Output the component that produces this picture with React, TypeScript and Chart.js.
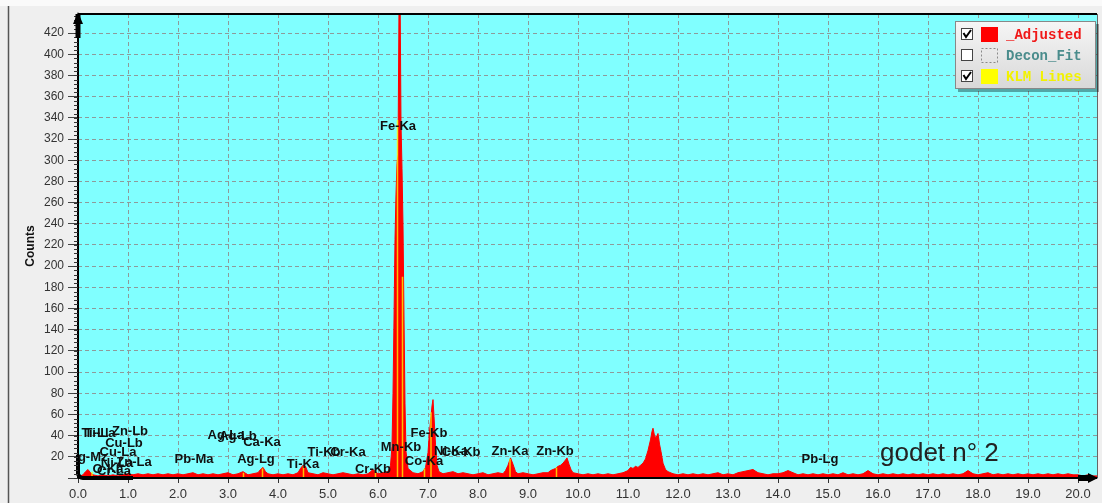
import React, { useEffect, useRef } from 'react';
import { Chart, registerables } from 'chart.js';

Chart.register(...registerables);

// ---- spectrum (_Adjusted) ----
const spectrumKeV = [
  0.0, 0.05, 0.1, 0.15, 0.2, 0.25, 0.3, 0.4, 0.5, 0.6, 0.7, 0.8, 0.9, 1.0, 1.1, 1.2, 1.3, 1.4, 1.5, 1.6, 1.7, 1.8, 1.9,
  2.0, 2.1, 2.2, 2.3, 2.4, 2.5, 2.6, 2.7, 2.8, 2.9, 3.0, 3.1, 3.2, 3.3, 3.4, 3.5, 3.6, 3.65, 3.7, 3.75, 3.8, 3.9,
  4.0, 4.1, 4.2, 4.3, 4.4, 4.45, 4.5, 4.55, 4.6, 4.7, 4.8, 4.9, 5.0, 5.1, 5.2, 5.3, 5.4, 5.5, 5.6, 5.7, 5.8, 5.85, 5.9, 5.95,
  6.0, 6.1, 6.2, 6.25, 6.28, 6.3, 6.32, 6.34, 6.36, 6.38, 6.4, 6.42, 6.44, 6.46, 6.48, 6.5, 6.52, 6.54, 6.56, 6.6, 6.7, 6.8,
  6.9, 6.95, 7.0, 7.03, 7.06, 7.08, 7.1, 7.12, 7.15, 7.18, 7.22, 7.3, 7.4, 7.5, 7.6, 7.7, 7.8, 7.9,
  8.0, 8.1, 8.2, 8.3, 8.4, 8.5, 8.55, 8.6, 8.65, 8.7, 8.75, 8.8, 8.9, 9.0, 9.1, 9.2, 9.3, 9.4, 9.45, 9.5, 9.55, 9.6, 9.65,
  9.7, 9.75, 9.78, 9.82, 9.86, 9.9, 10.0, 10.1, 10.2, 10.3, 10.4, 10.5, 10.6, 10.7, 10.8, 10.9,
  11.0, 11.05, 11.1, 11.15, 11.2, 11.25, 11.3, 11.35, 11.4, 11.45, 11.48, 11.5, 11.53, 11.56, 11.6, 11.63, 11.66, 11.7,
  11.75, 11.8, 11.9, 12.0, 12.1, 12.2, 12.3, 12.4, 12.5, 12.6, 12.7, 12.8, 12.9, 13.0, 13.1, 13.2, 13.3, 13.4, 13.5,
  13.6, 13.7, 13.8, 13.9, 14.0, 14.1, 14.2, 14.3, 14.4, 14.5, 14.6, 14.7, 14.8, 14.9, 15.0, 15.1, 15.2, 15.3, 15.4,
  15.5, 15.6, 15.7, 15.8, 15.9, 16.0, 16.1, 16.2, 16.3, 16.4, 16.5, 16.6, 16.7, 16.8, 16.9, 17.0, 17.1, 17.2, 17.3,
  17.4, 17.5, 17.6, 17.7, 17.8, 17.9, 18.0, 18.1, 18.2, 18.3, 18.4, 18.5, 18.6, 18.7, 18.8, 18.9, 19.0, 19.1, 19.2,
  19.3, 19.4, 19.5, 19.6, 19.7, 19.8, 19.9, 20.0, 20.1, 20.2, 20.3, 20.4,
];
const spectrumCounts = [
  0, 2, 3, 6, 8, 5, 3, 2, 3, 2, 3, 2, 3, 4, 3, 4, 3, 4, 3, 4, 3, 4, 3,
  4, 3, 4, 5, 3, 4, 3, 4, 3, 4, 5, 3, 4, 6, 3, 4, 5, 8, 10, 6, 4, 3,
  4, 3, 4, 3, 5, 9, 12, 11, 5, 4, 3, 5, 4, 3, 4, 5, 4, 3, 4, 3, 4, 6, 8, 6,
  4, 5, 6, 12, 30, 80, 150, 225, 268, 297, 305, 445, 470, 335, 292, 238, 150, 70, 25, 9, 5, 4,
  6, 10, 24, 44, 58, 68, 74, 58, 32, 12, 6, 4, 5, 6, 4, 5, 4, 3,
  4, 5, 3, 4, 5, 4, 7, 12, 19, 13, 6, 4, 5, 4, 3, 4, 5, 5, 7, 8, 9, 11, 12,
  14, 17, 19, 13, 8, 5, 4, 3, 4, 3, 4, 3, 4, 3, 4, 5,
  7, 10, 9, 11, 10, 12, 14, 18, 26, 36, 44, 47, 40, 38, 42, 32, 25, 14,
  8, 6, 4, 3, 4, 3, 4, 3, 4, 3, 4, 5, 3, 4, 3, 5, 6, 7, 8,
  5, 4, 3, 4, 4, 5, 7, 5, 3, 4, 3, 4, 3, 4, 3, 4, 3, 5, 3,
  4, 3, 4, 7, 4, 3, 4, 3, 4, 3, 4, 3, 4, 3, 4, 3, 4, 3, 4,
  3, 4, 3, 4, 7, 4, 3, 4, 5, 3, 4, 3, 4, 3, 4, 3, 4, 3, 4,
  3, 4, 3, 4, 3, 4, 3, 3, 2, 3, 2, 2,
];

// ---- KLM marker lines ----
const klmKeV = [0.28, 3.31, 3.69, 4.51, 5.95, 6.39, 6.49, 6.93, 7.06, 8.64, 9.57];
const klmCounts = [6, 5, 9, 11, 7, 338, 190, 9, 62, 18, 10];

// ---- low-energy tail (black) ----
const lowKeV = [0.0, 0.0, 0.04, 0.1, 0.3, 0.6, 0.9, 1.1];
const lowCounts = [22, 4, 1, 0, 0, 0, 0, 0];

// ---- line identification labels ----
const lineLabels = [
  'Fe-Ka', 'Fe-Kb', 'Mn-Kb', 'Co-Ka', 'Ni-Ka', 'Co-Kb', 'Cr-Kb', 'Cr-Ka', 'Ti-Kb', 'Ti-Ka',
  'Ca-Ka', 'Ag-Lg', 'Ag-La', 'Ag-Lb', 'Pb-Ma', 'Pb-Lg', 'Zn-Ka', 'Zn-Kb',
  'Ti-Ll', 'Ti-La', 'Zn-Lb', 'Cu-Lb', 'Cu-La', 'Ag-Mz', 'Ni-La', 'Zn-La', 'O-Ka', 'Cr-La',
];
const lineLabelKeV = [
  6.4, 7.02, 6.46, 6.92, 7.46, 7.66, 5.9, 5.4, 4.92, 4.5,
  3.68, 3.56, 2.96, 3.2, 2.32, 14.84, 8.64, 9.54,
  0.34, 0.44, 1.04, 0.92, 0.8, 0.2, 0.78, 1.12, 0.6, 0.72,
];
const lineLabelCounts = [
  332, 42, 29, 16, 25, 24, 8.5, 24, 24, 13,
  34, 18, 40, 39, 18, 18, 25, 25,
  42, 42, 44, 33, 24, 19, 14, 15, 8, 6,
];

const legendNames = ['_Adjusted', 'Decon_Fit', 'KLM Lines'];
const legendChecked = [true, false, true];
const annotationText = 'godet n° 2';
const yTitle = 'Counts';

const X_MAX = 20.38;
const Y_MAX = 438;

const decorPlugin = {
  id: 'decor',
  beforeDraw(chart: any) {
    const { ctx, chartArea: a, width, height } = chart;
    ctx.save();
    ctx.fillStyle = '#EFEFEF';
    ctx.fillRect(0, 0, width, height);
    ctx.fillStyle = '#FAFAFA';
    ctx.fillRect(0, 0, width, 6);
    ctx.strokeStyle = '#555';
    ctx.lineWidth = 1.5;
    ctx.beginPath();
    ctx.moveTo(8.5, 6);
    ctx.lineTo(8.5, height);
    ctx.stroke();
    ctx.fillStyle = '#80FFFF';
    ctx.fillRect(a.left, a.top, a.right - a.left, a.bottom - a.top);
    ctx.restore();
  },
  afterDatasetsDraw(chart: any) {
    const { ctx, chartArea: a, scales } = chart;
    const xs = scales.x;
    const ys = scales.y;
    ctx.save();

    // labels
    ctx.save();
    ctx.beginPath();
    ctx.rect(a.left, a.top, a.right - a.left, a.bottom - a.top);
    ctx.clip();
    ctx.font = 'bold 13px "Liberation Sans", Arial, sans-serif';
    ctx.fillStyle = '#111';
    ctx.textAlign = 'center';
    ctx.textBaseline = 'middle';
    lineLabels.forEach((t, i) => {
      ctx.fillText(t, xs.getPixelForValue(lineLabelKeV[i]), ys.getPixelForValue(lineLabelCounts[i]));
    });
    ctx.restore();

    // frame lines
    ctx.strokeStyle = '#000';
    ctx.lineWidth = 2;
    ctx.beginPath();
    ctx.moveTo(a.left, a.top);
    ctx.lineTo(a.right, a.top);
    ctx.moveTo(a.left, a.top);
    ctx.lineTo(a.left, a.bottom);
    ctx.lineTo(a.right, a.bottom);
    ctx.stroke();
    ctx.lineWidth = 1;
    ctx.strokeStyle = '#666';
    ctx.beginPath();
    ctx.moveTo(a.right + 0.5, a.top);
    ctx.lineTo(a.right + 0.5, a.bottom);
    ctx.stroke();

    // minor y ticks
    ctx.strokeStyle = '#333';
    ctx.lineWidth = 1;
    ctx.beginPath();
    for (let v = 0; v <= Y_MAX; v += 4) {
      const y = Math.round(ys.getPixelForValue(v)) + 0.5;
      ctx.moveTo(a.left - 4, y);
      ctx.lineTo(a.left, y);
    }
    ctx.stroke();

    // arrows
    ctx.fillStyle = '#000';
    ctx.fillRect(a.left - 2.5, a.top, 5, 24);
    ctx.beginPath();
    ctx.moveTo(a.left - 5, a.top + 10);
    ctx.lineTo(a.left + 5, a.top + 10);
    ctx.lineTo(a.left, a.top - 2);
    ctx.closePath();
    ctx.fill();
    const x20 = xs.getPixelForValue(20);
    ctx.fillRect(x20, a.bottom - 3, a.right - x20 - 6, 6);
    ctx.beginPath();
    ctx.moveTo(a.right - 9, a.bottom - 5);
    ctx.lineTo(a.right - 9, a.bottom + 5);
    ctx.lineTo(a.right + 1, a.bottom);
    ctx.closePath();
    ctx.fill();

    // annotation text
    ctx.font = '26px "Liberation Sans", Arial, sans-serif';
    ctx.fillStyle = '#222';
    ctx.textAlign = 'left';
    ctx.textBaseline = 'alphabetic';
    ctx.fillText(annotationText, 880, 461);

    // y title
    ctx.save();
    ctx.translate(31, 246);
    ctx.rotate(-Math.PI / 2);
    ctx.font = 'bold 12px "Liberation Sans", Arial, sans-serif';
    ctx.fillStyle = '#111';
    ctx.textAlign = 'center';
    ctx.textBaseline = 'middle';
    ctx.fillText(yTitle, 0, 0);
    ctx.restore();

    // legend
    const bx = 955, by = 21, bw = 141, bh = 68;
    ctx.fillStyle = 'rgba(0,0,0,0.35)';
    ctx.fillRect(bx + 3, by + 3, bw, bh);
    const g = ctx.createLinearGradient(0, by, 0, by + bh);
    g.addColorStop(0, '#F6F6F6');
    g.addColorStop(1, '#D8D8D8');
    ctx.fillStyle = g;
    ctx.fillRect(bx, by, bw, bh);
    ctx.strokeStyle = '#888';
    ctx.lineWidth = 1;
    ctx.strokeRect(bx + 0.5, by + 0.5, bw - 1, bh - 1);
    const rows = [34, 55, 76];
    const textColors = ['#F01818', '#4A8C8C', '#F2F200'];
    legendNames.forEach((name, i) => {
      const y = rows[i];
      ctx.fillStyle = '#FFF';
      ctx.fillRect(961, y - 6, 12, 12);
      ctx.strokeStyle = '#444';
      ctx.lineWidth = 1;
      ctx.strokeRect(961.5, y - 5.5, 11, 11);
      if (legendChecked[i]) {
        ctx.strokeStyle = '#000';
        ctx.lineWidth = 2;
        ctx.beginPath();
        ctx.moveTo(963.5, y - 1);
        ctx.lineTo(966, y + 3);
        ctx.lineTo(971, y - 4);
        ctx.stroke();
      }
      if (i === 0) {
        ctx.fillStyle = '#FF0000';
        ctx.fillRect(981, y - 7, 17, 15);
      } else if (i === 1) {
        ctx.save();
        ctx.setLineDash([2, 2]);
        ctx.strokeStyle = '#8A8A8A';
        ctx.lineWidth = 1;
        ctx.strokeRect(981.5, y - 6.5, 16, 14);
        ctx.restore();
      } else {
        ctx.fillStyle = '#FFFF00';
        ctx.fillRect(981, y - 7, 17, 15);
      }
      ctx.font = 'bold 14px "Liberation Mono", "Courier New", monospace';
      ctx.fillStyle = textColors[i];
      ctx.textAlign = 'left';
      ctx.textBaseline = 'middle';
      ctx.fillText(name, 1006, y + 1);
    });

    ctx.restore();
  },
};

export default function App() {
  const ref = useRef<HTMLCanvasElement>(null);
  useEffect(() => {
    const canvas = ref.current;
    if (!canvas) return;
    const klmSegments: any[] = [];
    klmKeV.forEach((x, i) => {
      klmSegments.push({ x, y: 0 }, { x, y: klmCounts[i] }, { x, y: null });
    });
    const chart = new Chart(canvas, {
      type: 'line',
      data: {
        datasets: [
          {
            label: legendNames[0],
            data: spectrumKeV.map((x, i) => ({ x, y: spectrumCounts[i] })),
            borderColor: '#FF0000',
            backgroundColor: '#FF0000',
            fill: 'origin',
            borderWidth: 1,
            pointRadius: 0,
            tension: 0,
            order: 3,
          } as any,
          {
            label: legendNames[1],
            data: [],
            hidden: true,
            order: 4,
          } as any,
          {
            label: legendNames[2],
            data: klmSegments,
            borderColor: 'rgba(255,255,0,0.75)',
            borderWidth: 1.5,
            pointRadius: 0,
            fill: false,
            spanGaps: false,
            order: 2,
          } as any,
          {
            label: 'tail',
            data: lowKeV.map((x, i) => ({ x, y: lowCounts[i] })),
            borderColor: '#000',
            borderWidth: 4,
            pointRadius: 0,
            fill: false,
            tension: 0.3,
            clip: 6,
            order: 1,
          } as any,
        ],
      },
      options: {
        animation: false,
        responsive: false,
        devicePixelRatio: 1,
        layout: { padding: { top: 14, right: 5, left: 0, bottom: 0 } },
        plugins: { legend: { display: false }, tooltip: { enabled: false } },
        scales: {
          x: {
            type: 'linear',
            min: 0,
            max: X_MAX,
            offset: false,
            ticks: {
              stepSize: 1,
              includeBounds: false,
              autoSkip: false,
              maxRotation: 0,
              padding: 4,
              color: '#333',
              font: { family: '"Liberation Sans", Arial, sans-serif', size: 13 },
              callback: (v: any) => Number(v).toFixed(1),
            },
            grid: { color: '#8E9A9A', lineWidth: 1, drawTicks: true, tickLength: 5, tickColor: '#333', tickWidth: 1 },
            border: { display: false, dash: [4, 3] },
            afterFit: (s: any) => { s.height = 25; },
          } as any,
          y: {
            type: 'linear',
            min: 0,
            max: Y_MAX,
            ticks: {
              stepSize: 20,
              includeBounds: false,
              padding: 4,
              color: '#333',
              font: { family: '"Liberation Sans", Arial, sans-serif', size: 12 },
              callback: (v: any) => (Number(v) === 0 ? '' : String(v)),
            },
            grid: { color: '#8E9A9A', lineWidth: 1, drawTicks: true, tickLength: 10, tickColor: '#444', tickWidth: 1 },
            border: { display: false, dash: [4, 3] },
            afterFit: (s: any) => { s.width = 78; },
          } as any,
        },
      },
      plugins: [decorPlugin],
    });
    return () => chart.destroy();
  }, []);
  return (
    <div style={{ position: 'absolute', left: 0, top: 0, width: 1102, height: 503 }}>
      <canvas ref={ref} width={1102} height={503} style={{ display: 'block' }} />
    </div>
  );
}
